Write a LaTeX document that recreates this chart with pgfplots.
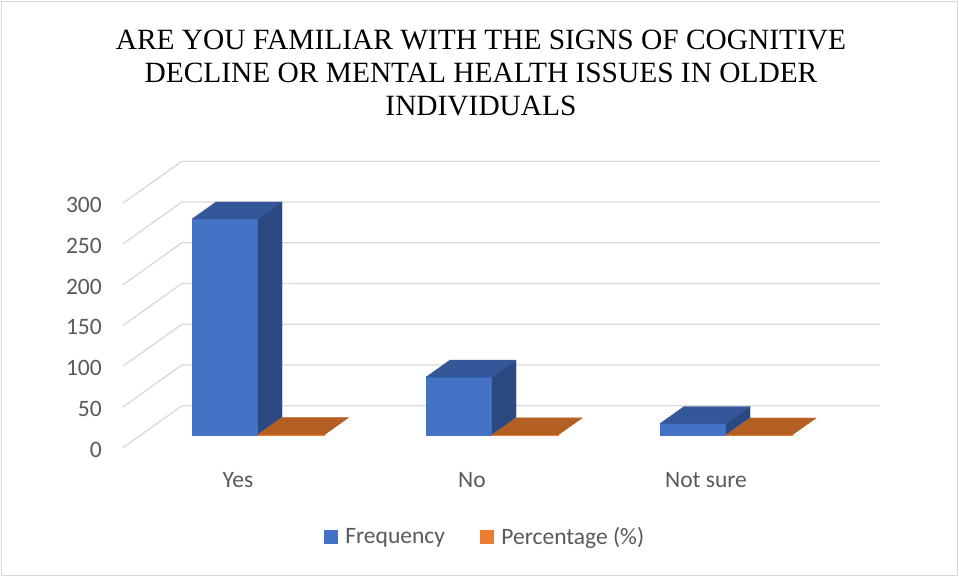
\documentclass[border=0pt]{standalone}
\usepackage{pgfplots}
\pgfplotsset{compat=1.18}
\usepackage{pgfplotstable}
\usepackage{fontspec}
\setmainfont{Liberation Serif}
\newfontfamily\calib{Carlito}
\definecolor{bfront}{HTML}{4472C4}
\definecolor{btop}{HTML}{34579A}
\definecolor{bside}{HTML}{2B4980}
\definecolor{ofront}{HTML}{ED7D31}
\definecolor{otop}{HTML}{B45F23}
\definecolor{oside}{HTML}{9E5220}
\definecolor{gridc}{HTML}{D9D9D9}
\definecolor{txt}{HTML}{595959}

\pgfplotstableread{
cat freq pct
0 265 0.757
1 71 0.203
2 14 0.040
}\datatable

% one 3D bar: #1 front-left x, #2 value, #3-#5 colours
\newcommand\cuboid[5]{%
  \pgfmathsetmacro\cbxa{#1}%
  \pgfmathsetmacro\cbxb{#1+66}%
  \pgfmathsetmacro\cbxc{#1+90}%
  \pgfmathsetmacro\cbxd{#1+24}%
  \pgfmathsetmacro\cbya{15.6}%
  \pgfmathsetmacro\cbyb{15.6+#2}%
  \pgfmathsetmacro\cbyc{36.5+#2}%
  \pgfmathsetmacro\cbyd{36.5}%
  \edef\cbtmp{%
   \noexpand\addplot[fill=#3,draw=#3,line width=0.3pt,mark=none,forget plot] coordinates {(\cbxa,\cbya) (\cbxb,\cbya) (\cbxb,\cbyb) (\cbxa,\cbyb)} -- cycle;
   \noexpand\addplot[fill=#5,draw=#5,line width=0.3pt,mark=none,forget plot] coordinates {(\cbxb,\cbya) (\cbxc,\cbyd) (\cbxc,\cbyc) (\cbxb,\cbyb)} -- cycle;
   \noexpand\addplot[fill=#4,draw=#4,line width=0.3pt,mark=none,forget plot] coordinates {(\cbxa,\cbyb) (\cbxb,\cbyb) (\cbxc,\cbyc) (\cbxd,\cbyc)} -- cycle;
  }\cbtmp
}
% one gridline: left wall diagonal + back wall line
\newcommand\gridpair[1]{%
  \pgfmathsetmacro\gpb{#1+51.5}%
  \edef\gptmp{\noexpand\addplot[gridc, line width=1.3pt, mark=none, forget plot] coordinates {(123,#1) (182,\gpb) (880,\gpb)};}\gptmp
}

\begin{document}
\begin{tikzpicture}
\useasboundingbox (0,0) rectangle (959pt,577pt);
\draw[gridc, line width=1.2pt] (1.5pt,1.5pt) rectangle (957.5pt,575.5pt);
\node[anchor=north, inner sep=0pt, align=center, font=\fontsize{29.4}{33}\selectfont] at (481pt,547pt)
 {ARE YOU FAMILIAR WITH THE SIGNS OF COGNITIVE\\DECLINE OR MENTAL HEALTH ISSUES IN OLDER\\INDIVIDUALS};
\begin{axis}[
  at={(123pt,129.3pt)}, anchor=south west,
  scale only axis, width=757pt, height=287pt,
  xmin=123, xmax=880, ymin=0, ymax=352.1,
  clip=false,
  axis line style={draw=none},
  tick style={draw=none},
  ytick={0,50,...,300},
  xtick={238,472,706},
  xticklabels={Yes,No,Not sure},
  /pgf/number format/assume math mode=true,
  ticklabel style={font=\calib\fontsize{23.5}{28}\selectfont, text=txt},
  yticklabel style={anchor=base east, inner sep=0pt, xshift=-21pt, yshift=-9.5pt},
  xticklabel style={anchor=base, inner sep=0pt, yshift=-40pt},
  legend style={at={(0.4782,-0.311)}, anchor=center, draw=none, fill=none,
    font=\calib\fontsize{23.5}{28}\selectfont, text=txt, legend columns=2,
    /tikz/every even column/.append style={column sep=33pt}},
  legend image code/.code={\fill[#1] (0pt,-6.5pt) rectangle (13pt,6.5pt); \path (19pt,0pt);},
]
\addlegendimage{bfront}
\addlegendimage{ofront}
\pgfplotsinvokeforeach{0,50,...,300}{\gridpair{#1}}
\pgfplotsinvokeforeach{0,1,2}{
  \pgfplotstablegetelem{#1}{freq}\of\datatable
  \pgfmathsetmacro\bx{192+234*#1}
  \cuboid{\bx}{\pgfplotsretval}{bfront}{btop}{bside}
  \pgfplotstablegetelem{#1}{pct}\of\datatable
  \pgfmathsetmacro\ox{258+234*#1}
  \cuboid{\ox}{\pgfplotsretval}{ofront}{otop}{oside}
}
\legend{Frequency, Percentage (\%)}
\end{axis}
\end{tikzpicture}
\end{document}
